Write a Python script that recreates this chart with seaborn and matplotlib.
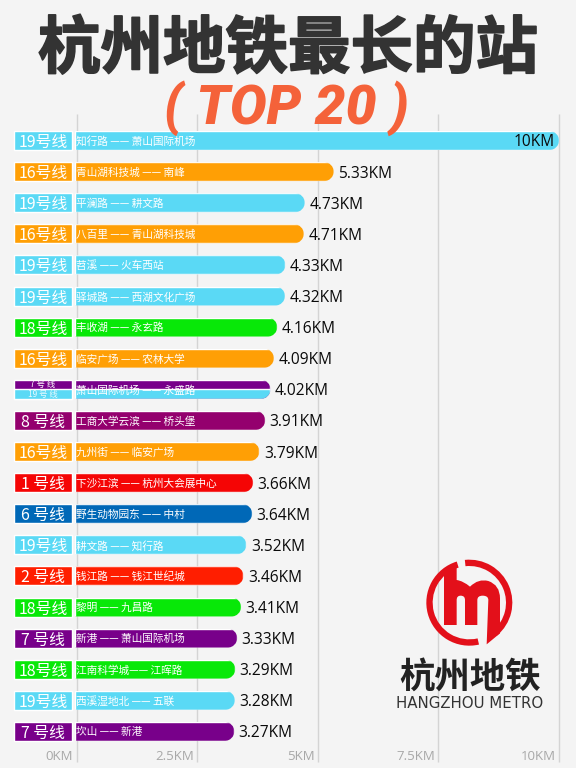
import matplotlib
matplotlib.use("Agg")
import matplotlib.pyplot as plt
import matplotlib.patheffects as pe
from matplotlib.patches import PathPatch, Wedge
from matplotlib.path import Path
from matplotlib.transforms import Affine2D, ScaledTranslation
import pandas as pd
import seaborn as sns

lines = ["19号线", "16号线", "19号线", "16号线", "19号线", "19号线", "18号线", "16号线", "7 号线", "8 号线",
         "16号线", "1 号线", "6 号线", "19号线", "2 号线", "18号线", "7 号线", "18号线", "19号线", "7 号线"]
sections = ["知行路 —— 萧山国际机场", "青山湖科技城 —— 南峰", "平澜路 —— 耕文路", "八百里 —— 青山湖科技城",
            "苕溪 —— 火车西站", "驿城路 —— 西湖文化广场", "丰收湖 —— 永玄路", "临安广场 —— 农林大学",
            "萧山国际机场 —— 永盛路", "工商大学云滨 —— 桥头堡", "九州街 —— 临安广场", "下沙江滨 —— 杭州大会展中心",
            "野生动物园东 —— 中村", "耕文路 —— 知行路", "钱江路 —— 钱江世纪城", "黎明 —— 九昌路",
            "新港 —— 萧山国际机场", "江南科学城—— 江晖路", "西溪湿地北 —— 五联", "坎山 —— 新港"]
lengths = [10, 5.33, 4.73, 4.71, 4.33, 4.32, 4.16, 4.09, 4.02, 3.91,
           3.79, 3.66, 3.64, 3.52, 3.46, 3.41, 3.33, 3.29, 3.28, 3.27]
value_labels = ["10KM", "5.33KM", "4.73KM", "4.71KM", "4.33KM", "4.32KM", "4.16KM", "4.09KM", "4.02KM", "3.91KM",
                "3.79KM", "3.66KM", "3.64KM", "3.52KM", "3.46KM", "3.41KM", "3.33KM", "3.29KM", "3.28KM", "3.27KM"]
line_colors = {"19号线": "#5AD9F5", "16号线": "#FF9F05", "18号线": "#08E808", "7 号线": "#78008A",
               "8 号线": "#94006E", "1 号线": "#F50505", "6 号线": "#0068B7", "2 号线": "#FF1E00"}
ticks = [0, 2.5, 5, 7.5, 10]
tick_labels = ["0KM", "2.5KM", "5KM", "7.5KM", "10KM"]

BG = "#F4F4F4"
W, H = 576, 768
X0, PX_KM = 76.5, 48.25
Y0, PX_ROW = 140.5, 31.1
BAR_H = 19.0 / PX_ROW
CJK = ["Noto Sans CJK SC", "DejaVu Sans"]

sns.set_theme(style="white")
plt.rcParams["font.family"] = CJK

fig = plt.figure(figsize=(W / 100, H / 100), dpi=100, facecolor=BG)
ax = fig.add_axes([0, 0, 1, 1], facecolor=BG)

df = pd.DataFrame({"section": sections, "km": lengths, "line": lines})
palette = [line_colors[l] for l in lines]
sns.barplot(data=df, y="section", x="km", hue="section", palette=palette, dodge=False,
            legend=False, width=BAR_H, saturation=1, ax=ax, zorder=3)

ax.set_xlim(-X0 / PX_KM, (W - X0) / PX_KM)
ax.set_ylim((H - Y0) / PX_ROW, -Y0 / PX_ROW)
for s in ax.spines.values():
    s.set_visible(False)
ax.set_xlabel("")
ax.set_ylabel("")
ax.set_yticks([])


def px_y(p):
    return (p - Y0) / PX_ROW


ax.vlines(ticks, px_y(114), px_y(762), color="#D4D4D4", lw=1.0, zorder=1)

ax.set_xticks(ticks)
ax.set_xticklabels(tick_labels, family="Open Sans", fontsize=9.5, color="#A8A8A8", ha="right")
ax.tick_params(axis="x", length=0, pad=-13)
shift = ScaledTranslation(-3.5 / 100, 0, fig.dpi_scale_trans)
for lab in ax.get_xticklabels():
    lab.set_transform(lab.get_transform() + shift)


def rounded(x0, x1, y0, y1, r=9.5):
    rx, ry = r / PX_KM, r / PX_ROW
    k = 0.45
    return Path(
        [(x0, y0), (x1 - rx, y0), (x1 - rx * k, y0), (x1, y0 + ry * (1 - k) * 0 + ry * k), (x1, y0 + ry),
         (x1, y1 - ry), (x1, y1 - ry * k), (x1 - rx * k, y1), (x1 - rx, y1), (x0, y1), (x0, y0)],
        [Path.MOVETO, Path.LINETO, Path.CURVE4, Path.CURVE4, Path.CURVE4,
         Path.LINETO, Path.CURVE4, Path.CURVE4, Path.CURVE4, Path.LINETO, Path.CLOSEPOLY])


left_ext = -1.5 / PX_KM
bars = [c[0] for c in ax.containers]
clips = {}
for i, bar in enumerate(bars):
    end = bar.get_width()
    bar.set_x(left_ext)
    bar.set_width(end - left_ext)
    y = bar.get_y()
    clip = rounded(left_ext, end, y, y + bar.get_height())
    clips[i] = clip
    bar.set_clip_path(clip, ax.transData)

# two-line row: lower stripe in the second line's colour
split = 8
lower = ax.barh(split + BAR_H * 0.25, lengths[split] - left_ext, height=BAR_H * 0.5, left=left_ext,
                color=line_colors["19号线"], zorder=3.2)[0]
lower.set_clip_path(clips[split], ax.transData)

# line badges
bx0, bx1 = (14 - X0) / PX_KM, (72 - X0) / PX_KM
for i, l in enumerate(lines):
    ax.barh(i, bx1 - bx0, height=BAR_H, left=bx0, color=line_colors[l], zorder=3)
    if i == split:
        ax.barh(i + BAR_H * 0.25, bx1 - bx0, height=BAR_H * 0.5, left=bx0, color=line_colors["19号线"], zorder=3.2)
        ax.text((bx0 + bx1) / 2, i - BAR_H * 0.25, "7 号 线", color="white", fontsize=6.0,
                ha="center", va="center", zorder=5)
        ax.text((bx0 + bx1) / 2, i + BAR_H * 0.25, "19 号 线", color="#E8FAFF", fontsize=6.0,
                ha="center", va="center", zorder=5)
    else:
        ax.text((bx0 + bx1) / 2, i, l, color="white", fontsize=11.4, ha="center", va="center_baseline", zorder=5)

    ax.annotate(sections[i], xy=(0, i), xytext=(-0.2, 0), textcoords="offset points", color="white",
                fontsize=7.7, ha="left", va="center_baseline", zorder=5)
    if lengths[i] >= 10:
        ax.annotate(value_labels[i], xy=(lengths[i], i), xytext=(-3, 0), textcoords="offset points",
                    color="#0A0A0A", family="Open Sans", fontsize=11.2, ha="right", va="center_baseline", zorder=5)
    else:
        ax.annotate(value_labels[i], xy=(lengths[i], i), xytext=(3.2, 0), textcoords="offset points",
                    color="#0A0A0A", family="Open Sans", fontsize=11.2, ha="left", va="center_baseline", zorder=5)

# headings
fig.text(288 / W, 1 - 43 / H, "杭州地铁最长的站", family=CJK, fontsize=45, fontweight="black", color="#333333",
         ha="center", va="center_baseline",
         path_effects=[pe.withStroke(linewidth=1.2, foreground="#333333")], zorder=6)
fig.text(286 / W, 1 - 102 / H, "( TOP 20 )", family="Roboto", fontsize=39.5, fontweight="black", fontstyle="italic",
         color="#F4623A", ha="center", va="center_baseline", zorder=6)

# metro logo, drawn in its own little coordinate frame
T = Affine2D().scale(1 / 3).translate(420, 555).scale(1, -1).translate(0, H)
RED = "#E3101A"
ax.add_patch(Wedge((148, 143), 129, -283, -107, width=19, color=RED, lw=0, transform=T, zorder=6))
ax.add_patch(Wedge((148, 143), 129, -96, 50, width=19, color=RED, lw=0, transform=T, zorder=6))
m_verts = [(72, 60), (110, 25), (110, 75), (130, 78), (150, 95), (175, 70), (205, 78), (240, 90), (240, 130),
           (240, 235), (200, 268), (205, 135), (205, 122), (188, 122), (172, 122), (172, 135), (172, 210), (135, 210),
           (135, 135), (135, 122), (122, 122), (110, 122), (110, 135), (110, 210), (72, 210), (72, 60)]
m_codes = [Path.MOVETO, Path.LINETO, Path.LINETO, Path.CURVE3, Path.CURVE3, Path.CURVE3, Path.CURVE3, Path.CURVE3,
           Path.CURVE3, Path.LINETO, Path.LINETO, Path.LINETO, Path.CURVE3, Path.CURVE3, Path.CURVE3, Path.CURVE3,
           Path.LINETO, Path.LINETO, Path.LINETO, Path.CURVE3, Path.CURVE3, Path.CURVE3, Path.CURVE3, Path.LINETO,
           Path.LINETO, Path.CLOSEPOLY]
ax.add_patch(PathPatch(Path(m_verts, m_codes), facecolor=RED, lw=0, transform=T, zorder=6))
fig.text(470 / W, 1 - 673.5 / H, "杭州地铁", family=CJK, fontsize=25.5, fontweight="bold", color="#222222",
         ha="center", va="center_baseline", zorder=6)
fig.text(470 / W, 1 - 702.5 / H, "HANGZHOU METRO", family="DejaVu Sans", fontsize=10.8, color="#333333",
         ha="center", va="center_baseline", zorder=6)

fig.savefig("out.png", dpi=100, facecolor=BG)
